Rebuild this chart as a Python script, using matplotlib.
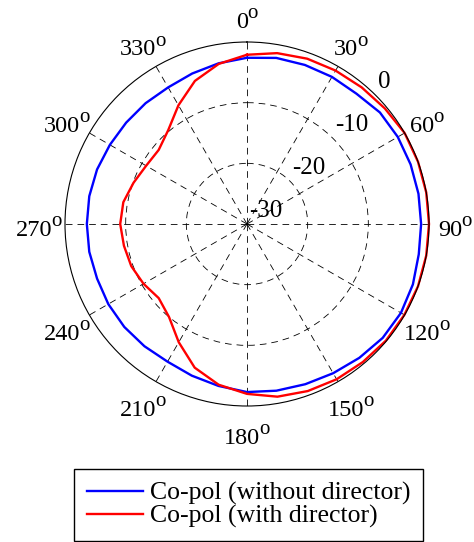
import numpy as np
import matplotlib.pyplot as plt
from matplotlib.transforms import offset_copy

plt.rcParams['font.family'] = 'Liberation Serif'

# compass angle (deg, clockwise from top) and gain (dB)
angles_deg = np.arange(0, 360, 10)
copol_without = [-2.6, -2.2, -2.1, -2.0, -1.95, -1.4, -1.3, -1.3, -1.3,
                 -1.3, -1.25, -0.9, -0.7, -0.8, -1.2, -1.6, -1.9, -2.1,
                 -2.3, -2.9, -3.4, -3.8, -3.7, -3.6, -3.6, -3.7, -3.6,
                 -3.6, -3.6, -3.7, -3.9, -4.0, -4.0, -4.0, -3.6, -3.1]
copol_with = [-2.1, -1.4, -1.0, -0.8, -0.6, -0.35, 0.0, 0.0, 0.0,
              0.0, 0.0, 0.0, -0.05, -0.1, -0.3, -0.45, -0.7, -1.1,
              -2.0, -3.1, -4.8, -7.5, -10.0, -11.0, -10.3, -9.7, -9.4,
              -9.1, -9.3, -10.1, -10.8, -11.0, -9.8, -7.4, -4.9, -3.2]
rings = [-30, -20, -10, 0]
theta_ticks = np.arange(0, 360, 30)

theta = np.deg2rad(np.append(angles_deg, angles_deg[0]))
r_without = np.append(copol_without, copol_without[0])
r_with = np.append(copol_with, copol_with[0])

fig = plt.figure(figsize=(4.74, 5.42), dpi=100)
ax = fig.add_axes([0.1371, 0.2509, 0.768, 0.6716], projection='polar')
ax.set_theta_zero_location('N')
ax.set_theta_direction(-1)

l1, = ax.plot(theta, r_without, color='#0000ff', lw=1.7, clip_on=False,
              label='Co-pol (without director)')
l2, = ax.plot(theta, r_with, color='#ff0000', lw=1.7, clip_on=False,
              label='Co-pol (with director)')

ax.set_ylim(rings[0], rings[-1])
ax.set_yticks(rings[1:-1])
ax.set_yticklabels([])
ax.set_xticks(np.deg2rad(theta_ticks))
ax.set_xticklabels([])
ax.tick_params(axis='x', length=0)
ax.grid(True, color='k', linestyle=(0, (8, 6)), linewidth=0.6)
ax.spines['polar'].set_linewidth(0.8)

# angle labels: number plus a raised "o", MATLAB style
fs = 17.5
fs_o = 15
em = fs * fig.dpi / 72
em_o = fs_o * fig.dpi / 72
k = 208 / 182
for a in theta_ticks:
    s = str(a)
    cx = 0.5 + 0.5 * k * np.sin(np.deg2rad(a))
    cy = 0.5 + 0.5 * k * np.cos(np.deg2rad(a))
    split = (len(s) * 0.5 * em - 0.5 * em_o) / 2
    tr_num = offset_copy(ax.transAxes, fig, x=split, y=-11.5, units='dots')
    tr_o = offset_copy(ax.transAxes, fig, x=split - 1, y=-2, units='dots')
    ax.text(cx, cy, s, transform=tr_num, ha='right', va='baseline',
            fontsize=fs, clip_on=False)
    ax.text(cx, cy, 'o', transform=tr_o, ha='left', va='baseline',
            fontsize=fs_o, clip_on=False)

for v in rings:
    ax.annotate(str(v), xy=(np.deg2rad(45), v), xytext=(2, 13),
                textcoords='offset pixels', ha='left', va='center',
                fontsize=18, annotation_clip=False)

fig.legend(handles=[l1, l2], loc='center', bbox_to_anchor=(0.524, 0.0683),
           fontsize=18.5, fancybox=False, edgecolor='k', framealpha=1,
           handlelength=2.2, handletextpad=0.25, labelspacing=0.0,
           borderpad=0.5)

fig.savefig('out.png', dpi=100)
